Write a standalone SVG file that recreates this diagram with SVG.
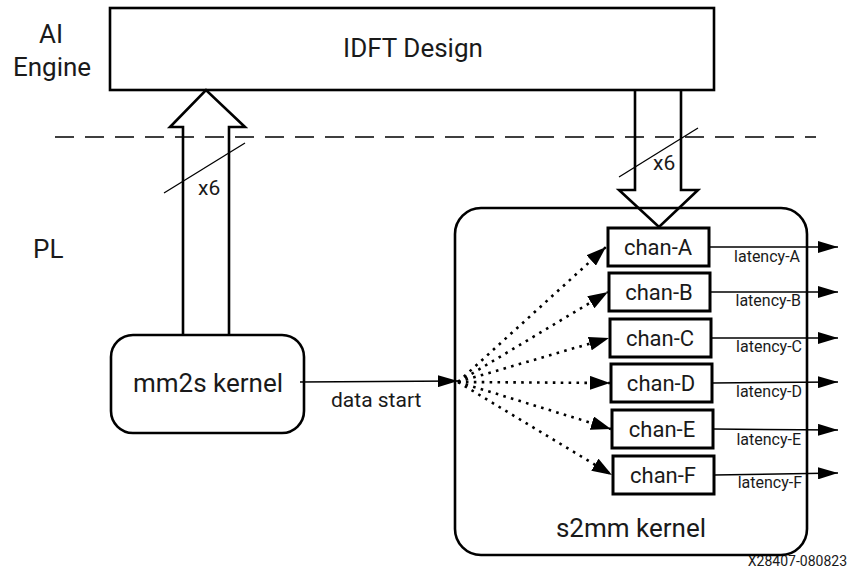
<svg xmlns="http://www.w3.org/2000/svg" width="848" height="577" viewBox="0 0 848 577">
<style>
text{font-family:Roboto,"Liberation Sans",sans-serif;fill:#1a1a1a}
.big{font-size:26px}
.chan{font-size:22px;text-anchor:middle}
.lat{font-size:16px;text-anchor:end}
.box{fill:#fff;stroke:#000;stroke-width:2.6}
.cbox{fill:#fff;stroke:#000;stroke-width:3}
.fat{fill:none;stroke:#000;stroke-width:2.6;stroke-linejoin:miter}
.thin{fill:none;stroke:#000;stroke-width:1.3}
.dot{fill:none;stroke:#000;stroke-width:2.6;stroke-dasharray:2.6 5.3}
.out{fill:none;stroke:#000;stroke-width:1.5}
</style>
<defs>
<marker id="ah" viewBox="0 0 20 12" refX="20" refY="6" markerWidth="20" markerHeight="12" orient="auto" markerUnits="userSpaceOnUse"><path d="M0,0 L20,6 L0,12 z" fill="#000"/></marker>
<marker id="ahd" viewBox="0 0 20 14" refX="20" refY="7" markerWidth="20" markerHeight="14" orient="auto" markerUnits="userSpaceOnUse"><path d="M0,0 L20,7 L0,14 z" fill="#000"/></marker>
</defs>

<g id="labels">
<text class="big" x="51" y="43" text-anchor="middle">AI</text>
<text class="big" x="52" y="76" text-anchor="middle">Engine</text>
<text class="big" x="33" y="258">PL</text>
<text x="847" y="566" font-size="14" text-anchor="end">X28407-080823</text>
</g>

<g id="idft">
<rect class="box" x="110" y="8" width="604" height="82"/>
<text class="big" x="413" y="57" text-anchor="middle">IDFT Design</text>
</g>

<g id="s2mm">
<rect class="box" x="455" y="208" width="352" height="347" rx="26"/>
<text class="big" x="631" y="537" text-anchor="middle">s2mm kernel</text>
</g>

<g id="mm2s">
<rect class="box" x="111" y="335" width="193" height="98" rx="22"/>
<text class="big" x="208" y="392" text-anchor="middle">mm2s kernel</text>
</g>

<g id="connectors">
<path class="fat" d="M183,335 L183,127 L170,127 L206,90 L245,127 L229,127 L229,335"/>
<path class="fat" d="M635,90 L635,190 L619,190 L659,227 L698,190 L681,190 L681,90"/>
<line x1="55" y1="137" x2="816" y2="137" stroke="#000" stroke-width="1.5" stroke-dasharray="19 11"/>
<line class="thin" x1="164" y1="193" x2="245" y2="143"/>
<text x="198" y="195" font-size="21">x6</text>
<line class="thin" x1="619" y1="177" x2="698" y2="128"/>
<text x="653" y="170" font-size="21">x6</text>
<line class="out" x1="300" y1="382" x2="458" y2="381" marker-end="url(#ah)"/>
<text x="331" y="407" font-size="21">data start</text>
<line class="dot" x1="458" y1="382" x2="606" y2="247" marker-end="url(#ahd)"/>
<line class="dot" x1="458" y1="382" x2="608" y2="292" marker-end="url(#ahd)"/>
<line class="dot" x1="458" y1="382" x2="609" y2="338" marker-end="url(#ahd)"/>
<line class="dot" x1="458" y1="382" x2="610" y2="383" marker-end="url(#ahd)"/>
<line class="dot" x1="458" y1="382" x2="611" y2="429" marker-end="url(#ahd)"/>
<line class="dot" x1="458" y1="382" x2="612" y2="475" marker-end="url(#ahd)"/>
<line class="out" x1="709" y1="247" x2="838" y2="247" marker-end="url(#ah)"/>
<line class="out" x1="710" y1="292" x2="838" y2="292" marker-end="url(#ah)"/>
<line class="out" x1="711" y1="338" x2="838" y2="338" marker-end="url(#ah)"/>
<line class="out" x1="712" y1="383" x2="838" y2="382" marker-end="url(#ah)"/>
<line class="out" x1="713" y1="429" x2="838" y2="430" marker-end="url(#ah)"/>
<line class="out" x1="714" y1="475" x2="838" y2="473" marker-end="url(#ah)"/>
<text class="lat" x="800" y="262">latency-A</text>
<text class="lat" x="801" y="306">latency-B</text>
<text class="lat" x="802" y="352">latency-C</text>
<text class="lat" x="802" y="397">latency-D</text>
<text class="lat" x="801" y="445">latency-E</text>
<text class="lat" x="802" y="488">latency-F</text>
</g>

<g id="chan-A"><rect class="cbox" x="608" y="228" width="101" height="38"/><text class="chan" x="658" y="255">chan-A</text></g>
<g id="chan-B"><rect class="cbox" x="609" y="273" width="101" height="38"/><text class="chan" x="659" y="300">chan-B</text></g>
<g id="chan-C"><rect class="cbox" x="610" y="319" width="101" height="38"/><text class="chan" x="660" y="346">chan-C</text></g>
<g id="chan-D"><rect class="cbox" x="611" y="364" width="101" height="38"/><text class="chan" x="661" y="391">chan-D</text></g>
<g id="chan-E"><rect class="cbox" x="612" y="410" width="101" height="38"/><text class="chan" x="662" y="437">chan-E</text></g>
<g id="chan-F"><rect class="cbox" x="613" y="456" width="101" height="38"/><text class="chan" x="663" y="483">chan-F</text></g>
</svg>
